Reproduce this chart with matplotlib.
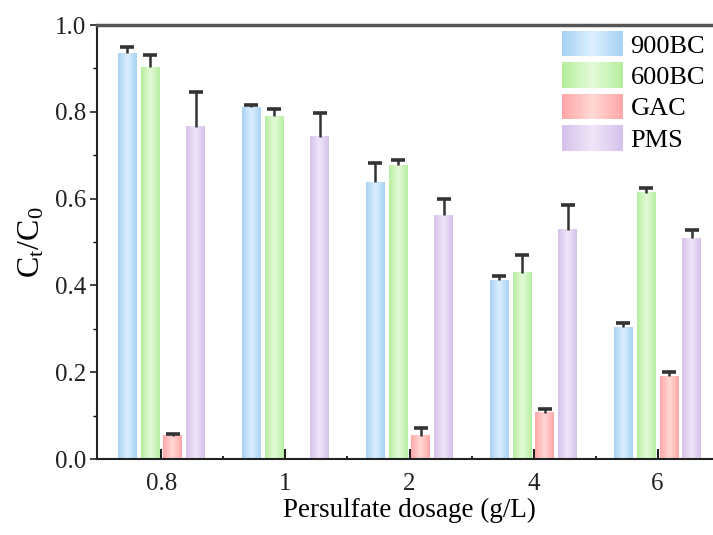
import numpy as np
import matplotlib
matplotlib.use("Agg")
import matplotlib.pyplot as plt
from matplotlib.colors import LinearSegmentedColormap
from matplotlib.legend_handler import HandlerBase
from matplotlib.patches import Rectangle

# data
dosages = ["0.8", "1", "2", "4", "6"]
series = ["900BC", "600BC", "GAC", "PMS"]
bc900 = [0.935, 0.811, 0.638, 0.412, 0.304]
bc900_err = [0.014, 0.005, 0.044, 0.010, 0.009]
bc600 = [0.903, 0.790, 0.677, 0.429, 0.613]
bc600_err = [0.028, 0.016, 0.012, 0.041, 0.011]
gac = [0.053, 0.0, 0.053, 0.106, 0.191]
gac_err = [0.005, 0.0, 0.018, 0.009, 0.009]
pms = [0.765, 0.742, 0.562, 0.528, 0.509]
pms_err = [0.080, 0.055, 0.037, 0.057, 0.019]

values = [bc900, bc600, gac, pms]
errors = [bc900_err, bc600_err, gac_err, pms_err]
edge_cols = ["#a8d2f4", "#b6eea0", "#ffa8a8", "#d6c2ec"]
mid_cols = ["#dcefff", "#e4fbd8", "#ffd8d4", "#efe6f8"]

plt.rcParams["font.family"] = ["Liberation Serif", "DejaVu Serif"]
plt.rcParams["mathtext.fontset"] = "stix"


def grad_cmap(i):
    return LinearSegmentedColormap.from_list(
        "g%d" % i, [edge_cols[i], mid_cols[i], edge_cols[i]])


class GradHandler(HandlerBase):
    def __init__(self, idx):
        super().__init__()
        self.idx = idx

    def create_artists(self, legend, orig, xd, yd, w, h, fs, trans):
        cm = grad_cmap(self.idx)
        n = 24
        arts = []
        for k in range(n):
            r = Rectangle((-xd + w * k / n, -yd), w / n + 0.3, h,
                          facecolor=cm(k / (n - 1)), edgecolor="none",
                          transform=trans)
            arts.append(r)
        return arts


fig = plt.figure(figsize=(7.13, 5.35), dpi=100)
ax = fig.add_axes([97 / 713, 1 - 459 / 535, (722 - 97) / 713, (459 - 25) / 535])

x = np.arange(len(dosages))
pitch = 0.185
width = 0.153
grad = np.linspace(0, 1, 64).reshape(1, -1)
handles = []
for i, (vals, errs) in enumerate(zip(values, errors)):
    pos = x + (i - 1.5) * pitch
    bars = ax.bar(pos, vals, width, color="none", edgecolor="none", label=series[i])
    handles.append(bars)
    for b in bars:
        if b.get_height() <= 0:
            continue
        ax.imshow(grad, cmap=grad_cmap(i), aspect="auto", zorder=2,
                  extent=[b.get_x(), b.get_x() + b.get_width(), 0, b.get_height()])
    v = np.array(vals)
    e = np.array(errs)
    m = v > 0
    # upper error only: stem plus a cap at the top
    ax.vlines(pos[m], v[m], v[m] + e[m], color="#333333", lw=1.8, zorder=3)
    ax.plot(pos[m], v[m] + e[m], ls="none", marker="_", ms=10, mew=2.6,
            color="#333333", zorder=3)

ax.set_xlim(-0.52, 4.52)
ax.set_ylim(0, 1.0)
ax.set_xticks(x)
ax.set_xticklabels(dosages)
ax.set_xticks(x[:-1] + 0.5, minor=True)
ax.set_yticks(np.arange(0, 1.01, 0.2))
ax.set_yticks(np.arange(0.1, 1.0, 0.2), minor=True)
ax.yaxis.set_major_formatter(matplotlib.ticker.FormatStrFormatter("%.1f"))
ax.tick_params(axis="both", labelsize=18, colors="#222222")
ax.tick_params(axis="x", which="major", direction="in", length=7, width=1.5, pad=10)
ax.tick_params(axis="x", which="minor", direction="in", length=2, width=1.2)
ax.tick_params(axis="y", which="major", direction="out", length=5, width=1.2, pad=3)
ax.tick_params(axis="y", which="minor", direction="out", length=3, width=1.0)
for s in ["left", "bottom"]:
    ax.spines[s].set_linewidth(1.5)
    ax.spines[s].set_color("#222222")
ax.spines["top"].set_linewidth(2.5)
ax.spines["top"].set_color("#555555")

ax.set_xlabel("Persulfate dosage (g/L)", fontsize=19.5, labelpad=2)
ax.set_ylabel(r"$\mathregular{C_t/C_0}$", fontsize=23, labelpad=6)

ax.legend(handles, series, handler_map={h: GradHandler(i) for i, h in enumerate(handles)},
          loc="upper left", bbox_to_anchor=(562 / 713, 1 - 31 / 535),
          bbox_transform=fig.transFigure, frameon=False, fontsize=19,
          handlelength=2.3, handleheight=1.1, labelspacing=0.18,
          handletextpad=0.3, borderpad=0, borderaxespad=0)

fig.savefig("out.png", dpi=100)
